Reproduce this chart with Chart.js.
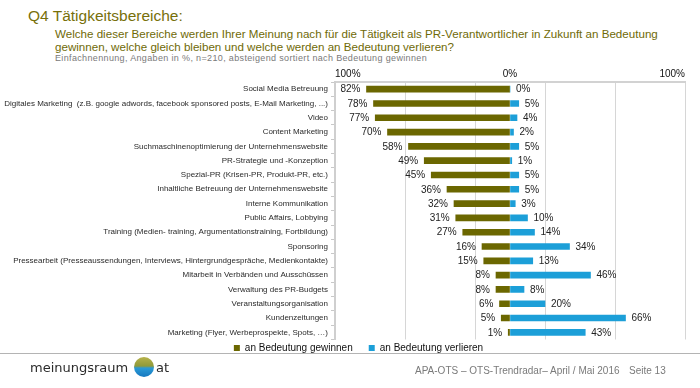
<!DOCTYPE html>
<html><head><meta charset="utf-8">
<script src="https://cdn.jsdelivr.net/npm/chart.js@4.4.1/dist/chart.umd.min.js"></script>
<style>
html,body{margin:0;padding:0;background:#fff;}
#wrap{position:relative;width:700px;height:388px;overflow:hidden;font-family:"Liberation Sans",Arial,sans-serif;}
canvas{position:absolute;left:0;top:0;}
.t{position:absolute;white-space:nowrap;}
</style></head><body>
<div id="wrap">
<div class="t" style="left:28px;top:6px;font-size:15.5px;line-height:20px;color:#77700a;">Q4 Tätigkeitsbereiche:</div>
<div class="t" style="left:55px;top:27px;font-size:11.6px;line-height:13px;color:#6f6a06;">Welche dieser Bereiche werden Ihrer Meinung nach für die Tätigkeit als PR-Verantwortlicher in Zukunft an Bedeutung<br>gewinnen, welche gleich bleiben und welche werden an Bedeutung verlieren?</div>
<div class="t" style="left:55px;top:52px;font-size:9px;letter-spacing:0.35px;line-height:12px;color:#7a7a7a;">Einfachnennung, Angaben in %, n=210, absteigend sortiert nach Bedeutung gewinnen</div>
<div style="position:absolute;left:-8px;top:300px;width:720px;height:53px;border-left:1px solid #b4b4b4;border-bottom:1px solid #b4b4b4;border-bottom-left-radius:8px;"></div>
<canvas id="c" width="700" height="388"></canvas>
<div class="t" style="left:30px;top:359px;font-family:'DejaVu Sans',sans-serif;font-size:13px;line-height:18px;color:#2b2b2b;">meinungsraum</div>
<div style="position:absolute;left:134px;top:357px;width:20px;height:20px;border-radius:50%;background:linear-gradient(180deg,#b7b24a 0%,#8f9a3a 45%,#2a9ad6 55%,#1578c0 100%);"></div>
<div class="t" style="left:156px;top:359px;font-family:'DejaVu Sans',sans-serif;font-size:13px;line-height:18px;color:#2b2b2b;">at</div>
<div class="t" style="left:415px;top:364px;font-size:10px;line-height:14px;color:#7a7a7a;">APA-OTS – OTS-Trendradar– April / Mai 2016</div>
<div class="t" style="left:629px;top:364px;font-size:10px;line-height:14px;color:#7a7a7a;">Seite 13</div>
</div>
<script>
const categories = [
  "Social Media Betreuung",
  "Digitales Marketing  (z.B. google adwords, facebook sponsored posts, E-Mail Marketing, ...)",
  "Video",
  "Content Marketing",
  "Suchmaschinenoptimierung der Unternehmenswebsite",
  "PR-Strategie und -Konzeption",
  "Spezial-PR (Krisen-PR, Produkt-PR, etc.)",
  "Inhaltliche Betreuung der Unternehmenswebsite",
  "Interne Kommunikation",
  "Public Affairs, Lobbying",
  "Training (Medien- training, Argumentationstraining, Fortbildung)",
  "Sponsoring",
  "Pressearbeit (Presseaussendungen, Interviews, Hintergrundgespräche, Medienkontakte)",
  "Mitarbeit in Verbänden und Ausschüssen",
  "Verwaltung des PR-Budgets",
  "Veranstaltungsorganisation",
  "Kundenzeitungen",
  "Marketing (Flyer, Werbeprospekte, Spots, …)"
];
const gewinnen = [82,78,77,70,58,49,45,36,32,31,27,16,15,8,8,6,5,1];
const verlieren = [0,5,4,2,5,1,5,5,3,10,14,34,13,46,8,20,66,43];
const seriesNames = ["an Bedeutung gewinnen","an Bedeutung verlieren"];
const gridTicks = [-100,-60,-20,0,20,60,100];
const labelTicks = [-100,0,100];

const OLIVE = '#6b6700';
const BLUE = '#1c9fd8';

const valueLabels = {
  id: 'valueLabels',
  afterDatasetsDraw(chart) {
    const ctx = chart.ctx;
    const xs = chart.scales.x;
    ctx.save();
    ctx.font = '10px "Liberation Sans", Arial, sans-serif';
    ctx.fillStyle = '#222';
    ctx.textBaseline = 'middle';
    chart.data.datasets.forEach((ds, di) => {
      const meta = chart.getDatasetMeta(di);
      meta.data.forEach((el, i) => {
        const val = ds.data[i];
        const px = xs.getPixelForValue(val);
        const txt = Math.abs(val) + '%';
        if (di === 0) { ctx.textAlign = 'right'; ctx.fillText(txt, px - 6, el.y + 0.5); }
        else { ctx.textAlign = 'left'; ctx.fillText(txt, px + 6, el.y + 0.5); }
      });
    });
    ctx.restore();
  }
};
const legendShift = {
  id: 'legendShift',
  afterLayout(chart) {
    const lg = chart.legend;
    if (lg) { lg.top -= 12.5; lg.bottom -= 12.5; lg.left += 16; lg.right += 16; }
  }
};

new Chart(document.getElementById('c'), {
  type: 'bar',
  data: {
    labels: categories,
    datasets: [
      { label: seriesNames[0], data: gewinnen.map(v => -v), backgroundColor: OLIVE, barThickness: 6, grouped: false },
      { label: seriesNames[1], data: verlieren, backgroundColor: BLUE, barThickness: 6, grouped: false }
    ]
  },
  options: {
    indexAxis: 'y',
    responsive: false,
    animation: false,
    layout: { padding: { left: 0, right: 15, top: 0, bottom: 12.5 } },
    scales: {
      x: {
        position: 'top', min: -100, max: 100,
        afterBuildTicks(scale) { scale.ticks = gridTicks.map(v => ({ value: v })); },
        afterFit(scale) { scale.height = 82; },
        grid: { drawTicks: false, color: (c) => (c.tick && c.tick.value === 0) ? 'rgba(0,0,0,0)' : '#d6d6d6', lineWidth: 1 },
        border: { display: true, color: '#d2d2d2', width: 2 },
        ticks: {
          autoSkip: false, maxRotation: 0, padding: 2, color: '#111', align: 'inner',
          font: { family: '"Liberation Sans", Arial, sans-serif', size: 10 },
          callback: (v) => labelTicks.includes(v) ? Math.abs(v) + '%' : ''
        }
      },
      y: {
        afterFit(scale) { scale.width = 335; },
        grid: { display: true, drawOnChartArea: false, offset: true, tickLength: 4, color: '#c8c8c8' },
        border: { display: true, color: '#cfcfcf', width: 2 },
        ticks: { autoSkip: false, padding: 3, color: '#2a2a2a', font: { family: '"Liberation Sans", Arial, sans-serif', size: 8 } }
      }
    },
    plugins: {
      tooltip: { enabled: false },
      legend: {
        position: 'bottom',
        labels: { boxWidth: 6, boxHeight: 6, padding: 16, color: '#111', font: { family: '"Liberation Sans", Arial, sans-serif', size: 10 } }
      }
    }
  },
  plugins: [valueLabels, legendShift]
});
</script>
</body></html>
